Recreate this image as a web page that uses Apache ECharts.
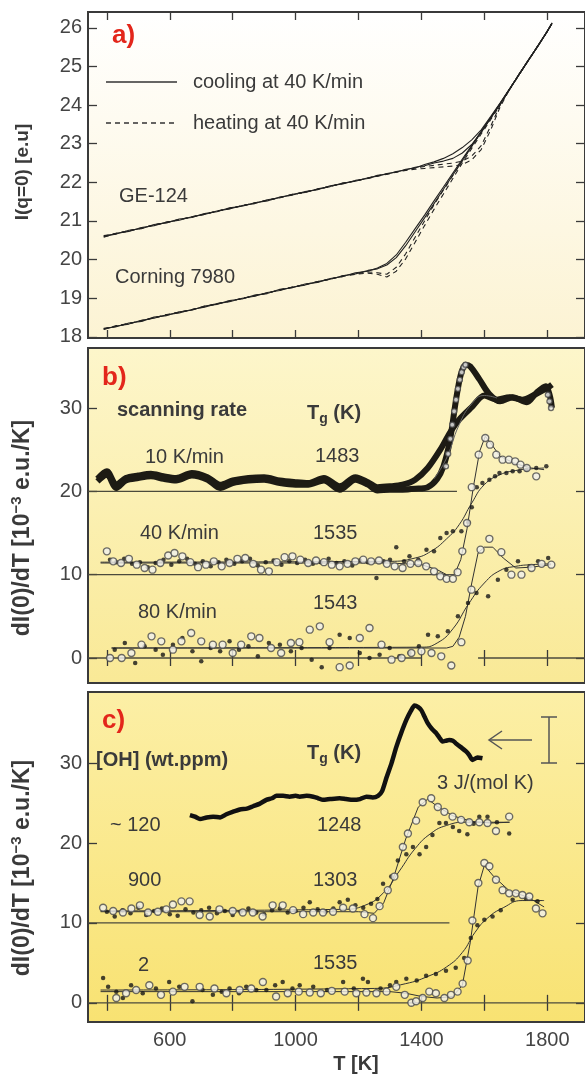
<!DOCTYPE html>
<html>
<head>
<meta charset="utf-8">
<script src="https://cdn.jsdelivr.net/npm/echarts@6/dist/echarts.min.js"></script>
<style>
  html, body { margin: 0; padding: 0; background: #fff; }
  #chart { width: 585px; height: 1074px; }
</style>
</head>
<body>
<div id="chart"></div>
<script>
const FONT = '"Liberation Sans", Arial, sans-serif';

// temperature axis
const tTicks = [400, 600, 800, 1000, 1200, 1400, 1600, 1800];
const tLabels = [600, 1000, 1400, 1800];
const aTicks = [18, 19, 20, 21, 22, 23, 24, 25, 26];
const bcTicks = [0, 10, 20, 30];

// ---- panel a: I(q=0) vs T
const aT = [390,430,470,510,550,590,630,670,710,750,790,830,870,910,950,990,1030,1070,1110,1150,
  1190,1230,1260,1290,1320,1350,1380,1410,1440,1470,1500,1530,1560,1590,1620,1650,1680,1710,1740,1770,1800,1815];
const geCool1 = [20.62,20.66,20.76,20.80,20.91,20.95,21.05,21.09,21.19,21.24,21.34,21.38,21.47,21.52,21.62,21.67,21.76,21.81,21.91,21.96,
  22.05,22.10,22.18,22.21,22.28,22.32,22.39,22.43,22.50,22.55,22.62,22.76,22.98,23.30,23.66,24.04,24.41,24.79,25.16,25.53,25.91,26.12];
const geCool2 = [20.58,20.68,20.73,20.83,20.88,20.97,21.02,21.11,21.17,21.26,21.31,21.40,21.45,21.55,21.60,21.69,21.74,21.83,21.89,21.98,
  22.03,22.12,22.16,22.23,22.26,22.34,22.37,22.46,22.53,22.62,22.74,22.90,23.10,23.36,23.70,24.05,24.42,24.78,25.17,25.52,25.92,26.10];
const geHeat1 = [20.61,20.68,20.75,20.81,20.90,20.96,21.04,21.10,21.18,21.25,21.33,21.39,21.47,21.53,21.61,21.68,21.75,21.82,21.90,21.97,
  22.04,22.10,22.16,22.21,22.26,22.31,22.34,22.36,22.38,22.40,22.42,22.46,22.58,22.85,23.35,23.95,24.40,24.78,25.15,25.52,25.90,26.11];
const geHeat2 = [20.59,20.67,20.74,20.82,20.89,20.97,21.03,21.11,21.17,21.26,21.32,21.40,21.46,21.54,21.60,21.69,21.74,21.83,21.89,21.98,
  22.03,22.11,22.17,22.22,22.27,22.32,22.37,22.41,22.44,22.47,22.50,22.55,22.68,22.95,23.45,24.00,24.42,24.79,25.16,25.53,25.91,26.12];
const crCool1 = [18.22,18.26,18.36,18.40,18.51,18.55,18.65,18.69,18.80,18.84,18.94,18.98,19.08,19.12,19.23,19.27,19.37,19.41,19.51,19.56,
  19.66,19.70,19.78,19.90,20.12,20.45,20.80,21.15,21.52,21.88,22.24,22.60,22.96,23.32,23.68,24.04,24.41,24.79,25.16,25.53,25.91,26.12];
const crCool2 = [18.19,18.28,18.33,18.43,18.48,18.57,18.62,18.71,18.77,18.86,18.91,19.00,19.05,19.15,19.20,19.29,19.34,19.43,19.49,19.58,
  19.63,19.72,19.76,19.86,20.05,20.36,20.72,21.08,21.45,21.82,22.19,22.56,22.93,23.30,23.66,24.03,24.40,24.80,25.15,25.54,25.90,26.13];
const crHeat1 = [18.21,18.27,18.35,18.41,18.50,18.56,18.64,18.70,18.79,18.85,18.93,18.99,19.07,19.13,19.22,19.28,19.36,19.42,19.50,19.57,
  19.62,19.65,19.62,19.55,19.70,20.02,20.45,20.88,21.30,21.70,22.10,22.50,22.88,23.25,23.62,24.00,24.40,24.78,25.16,25.52,25.90,26.12];
const crHeat2 = [18.20,18.29,18.34,18.42,18.49,18.58,18.63,18.71,18.78,18.86,18.92,19.00,19.06,19.14,19.21,19.29,19.35,19.43,19.49,19.58,
  19.63,19.68,19.66,19.62,19.80,20.15,20.58,21.00,21.42,21.80,22.18,22.56,22.94,23.30,23.66,24.02,24.41,24.79,25.17,25.53,25.91,26.12];

// ---- panel b: scanning rates
const b10aT = [370,400,430,460,500,540,580,620,670,720,760,800,850,900,950,1000,1040,1090,1140,1190,
  1230,1260,1300,1340,1380,1420,1460,1490,1520,1560,1600,1640,1680,1720,1760,1800,1815];
const b10aV = [21.5,22.4,20.8,21.6,21.9,22.1,21.8,21.6,22.2,21.7,20.8,21.3,21.6,21.7,21.3,21.1,21.0,21.6,20.6,21.7,
  21.1,20.5,20.6,20.8,21.4,22.8,25.0,27.0,28.6,30.1,31.5,31.0,31.3,31.0,31.6,32.4,32.8];
const b10bT = [370,400,430,460,500,540,580,620,670,720,760,800,850,900,950,1000,1040,1090,1140,1190,
  1230,1260,1300,1340,1380,1420,1450,1470,1490,1510,1525,1540,1555,1585,1615,1650,1690,1735,1765,1795,1808,1815];
const b10bV = [21.2,22.0,20.4,21.3,21.6,21.8,21.5,21.3,21.9,21.4,20.4,21.0,21.3,21.4,21.0,20.8,20.8,21.3,20.2,21.4,
  20.8,20.1,20.2,20.2,20.3,20.5,21.5,23.0,26.0,31.0,34.0,35.2,35.0,33.4,31.7,30.8,31.3,30.7,31.8,32.6,31.5,30.0];
const b10cT = [1478,1485,1492,1498,1504,1510,1516,1522,1528,1534,1540,1802,1807,1812];
const b10cV = [23.0,24.5,26.3,28.0,29.6,31.0,32.3,33.4,34.3,34.9,35.2,31.6,30.8,30.0];
const b10fitT = [1440,1480,1520,1560,1600,1640];
const b10fitV = [21.5,24.0,28.0,30.5,31.5,31.2];

const b40cT = [400,420,445,470,495,520,545,570,595,615,640,665,690,715,740,765,790,815,840,865,
  890,915,940,965,990,1015,1040,1065,1090,1115,1140,1165,1190,1215,1240,1265,1290,1315,1340,1365,
  1390,1415,1440,1460,1480,1500,1515,1530,1545,1560,1582,1603,1618,1638,1658,1678,1698,1715,1735,1765];
const b40cV = [12.8,11.6,11.4,11.9,11.2,10.8,10.6,11.4,12.3,12.6,12.2,11.5,10.9,11.2,11.6,11.0,11.4,11.9,12.0,11.3,
  10.6,10.4,11.5,12.1,12.2,11.8,11.4,11.7,11.5,11.2,11.0,11.3,11.6,11.8,11.6,11.7,11.3,11.0,10.8,11.3,
  11.4,11.0,10.4,9.8,9.5,9.5,10.3,12.8,16.2,20.5,24.4,26.4,25.6,24.4,23.8,23.8,23.6,23.2,22.8,21.8];
const b40dT = [410,430,455,480,505,530,555,580,605,630,655,680,705,730,755,780,805,830,855,880,
  905,930,955,980,1005,1030,1055,1080,1105,1130,1155,1180,1205,1230,1257,1280,1300,1320,1345,1362,
  1390,1416,1440,1460,1480,1500,1527,1549,1560,1576,1594,1616,1634,1648,1670,1690,1712,1734,1765,1797];
const b40dV = [11.8,11.5,11.9,11.3,11.5,10.9,11.4,11.8,11.2,11.6,11.9,11.3,11.6,11.0,11.5,11.8,11.3,11.6,11.9,11.1,
  11.5,11.7,11.2,11.6,11.4,11.8,11.3,11.5,11.9,11.4,11.6,11.1,11.7,11.5,9.6,11.6,11.8,13.3,11.6,12.2,
  11.8,13.0,12.8,14.4,15.0,15.2,15.2,16.3,18.1,20.5,21.0,21.4,21.8,22.2,22.2,22.4,22.4,22.6,22.8,23.0];
const b40fitAT = [380,1300,1400,1450,1480,1505,1525,1545,1565,1585,1603,1620,1650,1700,1750,1790];
const b40fitAV = [11.4,11.4,11.2,10.6,10.0,10.0,11.8,15.5,20.5,24.8,26.6,25.8,24.2,23.3,22.8,22.6];
const b40fitBT = [380,1300,1380,1430,1480,1520,1560,1600,1650,1700,1750,1790];
const b40fitBV = [11.5,11.6,12.0,12.8,14.3,16.0,18.6,20.8,22.0,22.5,22.7,22.8];

const b80cT = [410,447,478,510,542,573,610,637,668,700,737,768,800,827,859,885,922,954,985,1012,
  1045,1077,1108,1140,1172,1204,1235,1273,1305,1337,1368,1400,1432,1463,1495,1527,1559,1588,1616,1654,
  1686,1718,1750,1782,1813];
const b80cV = [0,0,0.6,1.6,2.6,2.0,1.0,2.0,3.0,2.0,1.6,1.6,0.6,1.6,2.6,2.4,1.2,0.6,1.8,1.9,
  3.4,3.8,1.9,-1.1,-0.9,2.4,3.6,1.6,-0.2,0,0.6,0.8,0.6,0.2,-0.9,1.9,8.2,13.0,14.3,12.7,
  10.0,10.0,10.8,11.3,11.2];
const b80dT = [425,457,490,520,555,578,610,640,672,700,730,760,790,820,850,880,915,950,985,1019,
  1051,1083,1108,1140,1172,1204,1235,1267,1299,1330,1362,1392,1421,1452,1484,1516,1548,1575,1612,1643,
  1670,1707,1744,1771,1803];
const b80dV = [1.0,1.8,-0.6,1.4,1.0,0.4,1.6,2.4,0.8,-0.4,1.2,0.8,2.0,1.0,1.4,0.2,1.8,1.6,0.8,1.2,
  -0.2,-1.1,1.2,2.8,2.4,0.6,0,0.4,1.2,0.2,0.6,1.4,2.8,2.6,3.2,5.0,6.6,7.8,7.4,9.4,
  10.6,11.6,11.0,11.6,12.0];
const b80fitAT = [415,1480,1500,1520,1540,1560,1580,1600,1627,1660,1700,1750,1812];
const b80fitAV = [1.2,1.2,1.4,2.5,5.0,9.0,12.6,13.3,13.3,12.0,10.8,10.9,11.2];
const b80fitBT = [415,1400,1450,1500,1550,1600,1650,1700,1750,1812];
const b80fitBV = [1.2,1.3,1.8,3.5,6.5,9.0,10.5,11.0,11.2,11.3];

const bBaseLevel = [20, 10, 0, 0];
const bBaseFrom = [340, 340, 340, 1580];
const bBaseTo = [1513, 1480, 1400, 1920];

// ---- panel c: OH content
const cCpT = [664,680,696,717,738,760,780,800,823,845,865,885,907,925,939,960,981,1000,1013,1035,
  1056,1072,1087,1110,1140,1160,1182,1205,1225,1245,1262,1275,1289,1305,1320,1336,1352,1366,1378,1390,
  1400,1410,1420,1433,1446,1457,1467,1478,1488,1500,1509,1525,1541,1552,1562,1578,1594];
const cCpV = [23.5,23.3,23.0,23.2,23.3,23.2,23.6,23.9,24.2,24.3,24.6,24.9,25.4,25.6,25.9,25.9,25.8,25.9,25.8,25.9,
  25.8,25.6,25.4,25.5,25.6,25.5,25.4,25.5,25.8,25.7,25.9,26.5,28.2,30.0,32.0,33.8,35.4,36.5,37.2,37.0,
  36.6,35.8,35.0,34.3,33.8,33.2,32.7,32.8,32.9,32.8,32.5,32.0,31.5,31.0,30.4,30.7,30.6];

const c900cT = [388,420,451,478,505,531,562,589,610,637,663,695,727,758,800,832,864,895,927,959,
  992,1024,1056,1087,1119,1151,1182,1219,1246,1267,1293,1314,1341,1357,1383,1404,1431,1452,1473,1499,
  1526,1552,1584,1610,1637,1679];
const c900cV = [11.9,11.5,11.3,11.8,12.2,11.3,11.4,11.7,12.3,12.7,12.7,11.0,10.8,11.7,11.5,11.3,11.3,10.8,12.2,12.2,
  11.6,11.1,11.3,11.3,11.4,11.9,11.8,11.1,10.6,12.1,14.1,15.8,19.5,21.2,22.8,25.1,25.6,24.5,23.9,23.3,
  22.9,22.6,22.6,22.5,21.5,23.3];
const c900dT = [400,425,450,475,500,525,550,575,600,625,650,675,700,725,750,775,800,825,850,875,
  900,925,950,975,1000,1025,1045,1070,1095,1120,1140,1166,1190,1215,1240,1260,1278,1304,1325,1352,
  1373,1394,1415,1435,1457,1478,1500,1520,1546,1566,1584,1610,1640,1679];
const c900dV = [11.4,10.8,11.6,11.2,11.9,11.0,11.5,11.8,11.1,10.9,11.7,11.3,11.6,11.9,11.2,11.5,11.0,11.4,11.8,11.3,
  11.1,11.6,11.8,11.3,11.5,11.9,12.6,11.7,11.4,11.8,12.6,12.9,12.2,11.9,12.4,13.0,14.9,15.8,17.8,18.6,
  19.5,18.6,19.5,21.0,22.5,22.5,22.0,21.5,21.1,22.4,23.3,23.3,22.6,21.2];
const c900fitAT = [380,1200,1250,1280,1310,1350,1390,1420,1450,1500,1560,1620,1680];
const c900fitAV = [11.4,11.4,11.2,12.5,15.5,20.5,24.5,25.5,24.6,23.4,22.7,22.5,22.6];
const c900fitBT = [380,1150,1220,1280,1330,1380,1430,1480,1540,1600,1680];
const c900fitBV = [11.5,11.7,12.2,13.8,16.5,19.3,21.2,22.2,22.6,22.6,22.6];

const c2cT = [430,461,493,535,572,610,647,695,742,780,822,859,896,938,975,1010,1045,1080,1115,1156,
  1193,1225,1257,1289,1320,1347,1368,1383,1404,1425,1446,1473,1494,1515,1531,1547,1562,1581,1600,1616,
  1637,1658,1679,1700,1721,1743,1764,1785];
const c2cV = [0.6,1.2,1.6,2.2,1.0,1.4,2.0,2.0,1.8,1.2,1.6,1.8,2.6,0.8,1.2,1.4,1.3,1.2,1.5,1.4,
  1.2,1.3,1.2,1.4,2.0,1.0,0.0,0.2,0.6,1.4,1.2,0.6,1.0,1.4,2.4,5.3,10.3,15.0,17.5,17.1,
  15.4,14.1,13.7,13.7,13.5,13.3,11.8,11.2];
const c2dT = [388,404,430,451,477,514,556,598,630,672,704,737,765,790,820,843,875,907,935,959,
  990,1013,1056,1100,1151,1185,1214,1230,1270,1300,1320,1352,1385,1415,1446,1478,1509,1536,1557,1578,
  1600,1626,1652,1690,1732,1769];
const c2dV = [3.1,2.0,1.4,0.6,2.2,1.2,1.8,2.6,2.0,0.2,1.6,1.0,1.4,1.8,1.2,2.0,1.6,1.6,2.2,2.6,
  1.8,2.2,2.0,1.6,2.6,1.8,3.0,2.6,1.8,2.2,2.6,3.0,2.8,3.4,3.6,4.0,4.4,5.6,8.1,9.7,
  10.4,10.8,11.6,12.9,13.1,12.7];
const c2fitAT = [380,1300,1350,1400,1450,1500,1530,1555,1580,1600,1630,1680,1740,1790];
const c2fitAV = [1.4,1.4,1.2,0.8,0.6,0.8,2.2,7.5,14.5,17.2,15.8,14.0,13.2,12.0];
const c2fitBT = [380,1250,1350,1420,1480,1530,1570,1610,1660,1720,1790];
const c2fitBV = [1.6,1.8,2.4,3.3,4.5,6.3,8.8,10.6,11.9,12.8,12.8];

const cBaseLevel = [10, 0];
const cBaseFrom = [340, 340];
const cBaseTo = [1489, 1920];

// ---- layout
const panels = [
  { top: 12, height: 326, min: 17.97, max: 26.41, ticks: aTicks, bg: ['#ffffff', '#fcf3d3'] },
  { top: 348, height: 335, min: -3, max: 37.2, ticks: bcTicks, bg: ['#fdf6cb', '#f9e996'] },
  { top: 692, height: 330, min: -2.4, max: 38.9, ticks: bcTicks, bg: ['#fcefa6', '#f8e272'] }
];

const zip = (xs, ys) => xs.map((x, i) => [x, ys[i]]);
const tickStyle = { color: '#3a3a3a', width: 1.3 };

const grid = panels.map(p => ({
  left: 88, top: p.top, width: 499, height: p.height,
  show: true, borderColor: '#3a3a3a', borderWidth: 2,
  backgroundColor: new echarts.graphic.LinearGradient(0, 0, 0, 1, [
    { offset: 0, color: p.bg[0] }, { offset: 1, color: p.bg[1] }
  ])
}));

const xAxis = [];
const yAxis = [];
panels.forEach((p, i) => {
  ['bottom', 'top'].forEach(pos => {
    xAxis.push({
      gridIndex: i, type: 'value', position: pos, min: 340, max: 1920,
      axisLine: { show: false }, splitLine: { show: false },
      axisTick: { inside: true, length: 8, customValues: tTicks, lineStyle: tickStyle },
      axisLabel: {
        show: i === 2 && pos === 'bottom', customValues: tLabels,
        formatter: v => String(v),
        color: '#444', fontSize: 20, fontFamily: FONT, margin: 8
      }
    });
  });
  ['left', 'right'].forEach(pos => {
    yAxis.push({
      gridIndex: i, type: 'value', position: pos, min: p.min, max: p.max,
      axisLine: { show: false }, splitLine: { show: false },
      axisTick: { inside: true, length: 9, customValues: p.ticks, lineStyle: tickStyle },
      axisLabel: {
        show: pos === 'left', customValues: p.ticks,
        formatter: v => String(v),
        color: '#444', fontSize: 20, fontFamily: FONT, margin: 6
      }
    });
  });
});

function lineS(p, xs, ys, w, opts) {
  opts = opts || {};
  return {
    type: 'line', xAxisIndex: p * 2, yAxisIndex: p * 2, data: zip(xs, ys),
    symbol: 'none', smooth: opts.smooth || false,
    lineStyle: { color: opts.color || '#222', width: w, type: opts.dash ? [5, 4] : 'solid' },
    z: opts.z || 2, silent: true
  };
}
function circles(p, xs, ys, size) {
  return {
    type: 'scatter', xAxisIndex: p * 2, yAxisIndex: p * 2, data: zip(xs, ys),
    symbol: 'circle', symbolSize: size || 7,
    itemStyle: { color: '#f0f0ee', borderColor: '#4a4a4a', borderWidth: 1.4 }, z: 5, silent: true
  };
}
function dots(p, xs, ys) {
  return {
    type: 'scatter', xAxisIndex: p * 2, yAxisIndex: p * 2, data: zip(xs, ys),
    symbol: 'circle', symbolSize: 4.5, itemStyle: { color: '#161616' }, z: 4, silent: true
  };
}
function baselines(p, levels, from, to) {
  return levels.map((lv, i) => lineS(p, [from[i], to[i]], [lv, lv], 1.3, { color: '#4b4a3c', z: 1 }));
}

const series = [
  lineS(0, aT, geHeat1, 1.1, { dash: true }),
  lineS(0, aT, geHeat2, 1.1, { dash: true }),
  lineS(0, aT, geCool1, 1.1),
  lineS(0, aT, geCool2, 1.1),
  lineS(0, aT, crHeat1, 1.1, { dash: true }),
  lineS(0, aT, crHeat2, 1.1, { dash: true }),
  lineS(0, aT, crCool1, 1.1),
  lineS(0, aT, crCool2, 1.1),

  ...baselines(1, bBaseLevel, bBaseFrom, bBaseTo),
  lineS(1, b10aT, b10aV, 6, { smooth: 0.3, color: '#1d1b14' }),
  lineS(1, b10bT, b10bV, 6, { smooth: 0.3, color: '#1d1b14' }),
  lineS(1, b10fitT, b10fitV, 1, { smooth: true, color: '#666', z: 3 }),
  circles(1, b10cT, b10cV, 5),
  lineS(1, b40fitAT, b40fitAV, 1, { color: '#333' }),
  lineS(1, b40fitBT, b40fitBV, 1, { smooth: true, color: '#333' }),
  dots(1, b40dT, b40dV),
  circles(1, b40cT, b40cV, 7),
  lineS(1, b80fitAT, b80fitAV, 1, { color: '#333' }),
  lineS(1, b80fitBT, b80fitBV, 1, { smooth: true, color: '#333' }),
  dots(1, b80dT, b80dV),
  circles(1, b80cT, b80cV, 7),

  ...baselines(2, cBaseLevel, cBaseFrom, cBaseTo),
  lineS(2, cCpT, cCpV, 4.5, { smooth: 0.2, color: '#111' }),
  lineS(2, c900fitAT, c900fitAV, 1, { color: '#333' }),
  lineS(2, c900fitBT, c900fitBV, 1, { smooth: true, color: '#333' }),
  dots(2, c900dT, c900dV),
  circles(2, c900cT, c900cV, 7),
  lineS(2, c2fitAT, c2fitAV, 1, { color: '#333' }),
  lineS(2, c2fitBT, c2fitBV, 1, { smooth: true, color: '#333' }),
  dots(2, c2dT, c2dV),
  circles(2, c2cT, c2cV, 7)
];

// annotations
const TXT = '#3a3a3a';
function label(text, x, y, o) {
  o = o || {};
  return {
    type: 'text', x: x, y: y, rotation: o.rot || 0, z: 20, silent: true,
    style: {
      text: text, fill: o.fill || TXT, align: o.align || 'left', verticalAlign: 'middle',
      font: (o.bold ? 'bold ' : '') + (o.size || 20) + 'px ' + FONT, rich: o.rich
    }
  };
}
const tgRich = {
  t: { font: 'bold 20px ' + FONT, fill: TXT },
  g: { font: 'bold 14px ' + FONT, fill: TXT, padding: [12, 0, 0, 0] }
};
const supRich = { s: { font: 'bold 15px ' + FONT, fill: TXT, padding: [0, 0, 12, 0] } };
const gray = { stroke: '#555', lineWidth: 1.5 };

const graphic = [
  label('a)', 112, 36, { bold: true, size: 26, fill: '#e3261b' }),
  { type: 'line', shape: { x1: 106, y1: 82, x2: 177, y2: 82 }, style: { stroke: '#333', lineWidth: 1.3 }, z: 20 },
  { type: 'line', shape: { x1: 106, y1: 123, x2: 177, y2: 123 }, style: { stroke: '#333', lineWidth: 1.3, lineDash: [5, 4] }, z: 20 },
  label('cooling at 40 K/min', 193, 82),
  label('heating at 40 K/min', 193, 123),
  label('GE-124', 119, 196),
  label('Corning 7980', 115, 277),
  label('I(q=0) [e.u]', 23, 172, { bold: true, size: 19, rot: Math.PI / 2, align: 'center' }),

  label('b)', 102, 378, { bold: true, size: 26, fill: '#e3261b' }),
  label('scanning rate', 117, 410, { bold: true }),
  label('{t|T}{g|g}{t| (K)}', 307, 413, { rich: tgRich }),
  label('10 K/min', 145, 457),
  label('1483', 315, 456),
  label('40 K/min', 140, 533),
  label('1535', 313, 533),
  label('80 K/min', 138, 612),
  label('1543', 313, 603),
  label('dI(0)/dT [10{s|−3} e.u./K]', 23, 528, { bold: true, size: 23, rot: Math.PI / 2, align: 'center', rich: supRich }),

  label('c)', 102, 721, { bold: true, size: 26, fill: '#e3261b' }),
  label('[OH] (wt.ppm)', 96, 760, { bold: true }),
  label('{t|T}{g|g}{t| (K)}', 307, 753, { rich: tgRich }),
  label('~ 120', 110, 825),
  label('900', 128, 880),
  label('2', 138, 965),
  label('1248', 317, 825),
  label('1303', 313, 880),
  label('1535', 313, 963),
  label('3 J/(mol K)', 437, 783),
  label('dI(0)/dT [10{s|−3} e.u./K]', 23, 868, { bold: true, size: 23, rot: Math.PI / 2, align: 'center', rich: supRich }),
  { type: 'line', shape: { x1: 489, y1: 740, x2: 532, y2: 740 }, style: gray, z: 20 },
  { type: 'polyline', shape: { points: [[502, 731], [489, 740], [502, 749]] }, style: Object.assign({ fill: 'none' }, gray), z: 20 },
  { type: 'line', shape: { x1: 549, y1: 717, x2: 549, y2: 763 }, style: gray, z: 20 },
  { type: 'line', shape: { x1: 541, y1: 717, x2: 557, y2: 717 }, style: gray, z: 20 },
  { type: 'line', shape: { x1: 541, y1: 763, x2: 557, y2: 763 }, style: gray, z: 20 },

  label('T [K]', 356, 1064, { bold: true, align: 'center' })
];

const chart = echarts.init(document.getElementById('chart'), null, { renderer: 'canvas' });
chart.setOption({
  animation: false,
  backgroundColor: '#ffffff',
  grid: grid,
  xAxis: xAxis,
  yAxis: yAxis,
  series: series,
  graphic: graphic
});
</script>
</body>
</html>
